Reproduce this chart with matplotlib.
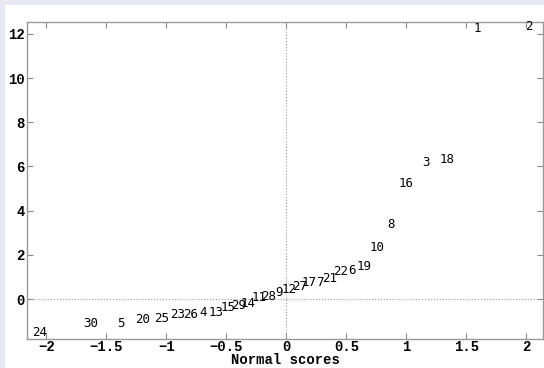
import matplotlib
matplotlib.use('Agg')
import matplotlib.pyplot as plt
from matplotlib.patches import Rectangle

labels = ['24', '30', '5', '20', '25', '23', '26', '4', '13', '15',
          '29', '14', '11', '28', '9', '12', '27', '17', '7', '21',
          '22', '6', '19', '10', '8', '16', '3', '18', '1', '2']
scores = [-2.04, -1.61, -1.36, -1.18, -1.02, -0.89, -0.78, -0.67, -0.57, -0.47,
          -0.38, -0.30, -0.21, -0.13, -0.04, 0.04, 0.13, 0.21, 0.30, 0.38,
          0.47, 0.57, 0.67, 0.78, 0.89, 1.02, 1.18, 1.36, 1.61, 2.04]
values = [-1.50, -1.13, -1.13, -0.95, -0.86, -0.72, -0.68, -0.63, -0.59, -0.40,
          -0.30, -0.20, 0.05, 0.12, 0.30, 0.45, 0.55, 0.75, 0.75, 0.95,
          1.25, 1.30, 1.45, 2.35, 3.35, 5.25, 6.20, 6.30, 12.26, 12.35]

xticks = [-2, -1.5, -1, -0.5, 0, 0.5, 1, 1.5, 2]
xticklabels = ['\u22122', '\u22121.5', '\u22121', '\u22120.5', '0', '0.5', '1', '1.5', '2']
yticks = [0, 2, 4, 6, 8, 10, 12]

fig = plt.figure(figsize=(5.44, 3.68), dpi=100, facecolor='#e8e8f2')
# white panel with a lavender strip on the top and left
fig.patches.append(Rectangle((5 / 544, 0), 1, 363 / 368, transform=fig.transFigure,
                             facecolor='white', edgecolor='none', zorder=-5))

ax = fig.add_axes([27.3 / 544, 1 - 339 / 368, (543 - 27.3) / 544, (339 - 21.7) / 368])
ax.set_xlim(-2.16, 2.14)
ax.set_ylim(-1.81, 12.55)

ax.axhline(0, color='#999999', linestyle=':', linewidth=0.8)
ax.axvline(0, color='#999999', linestyle=':', linewidth=0.8)

for lab, x, y in zip(labels, scores, values):
    ax.text(x - 0.02, y, lab, ha='center', va='center', fontsize=9,
            family='DejaVu Sans Mono', color='black')

ax.set_xticks(xticks)
ax.set_xticklabels(xticklabels)
ax.set_yticks(yticks)
ax.tick_params(direction='in', length=4, width=0.8, color='#888888',
               top=True, right=True, labelsize=10, pad=2)
ax.tick_params(axis='x', pad=1)
for t in ax.get_xticklabels() + ax.get_yticklabels():
    t.set_family('Liberation Mono')
    t.set_fontweight('bold')
for s in ax.spines.values():
    s.set_color('#999999')
    s.set_linewidth(1)

ax.set_xlabel('Normal scores', family='Liberation Mono', fontweight='bold',
              fontsize=10, labelpad=-1)

fig.savefig('out.png', dpi=100, facecolor=fig.get_facecolor())
